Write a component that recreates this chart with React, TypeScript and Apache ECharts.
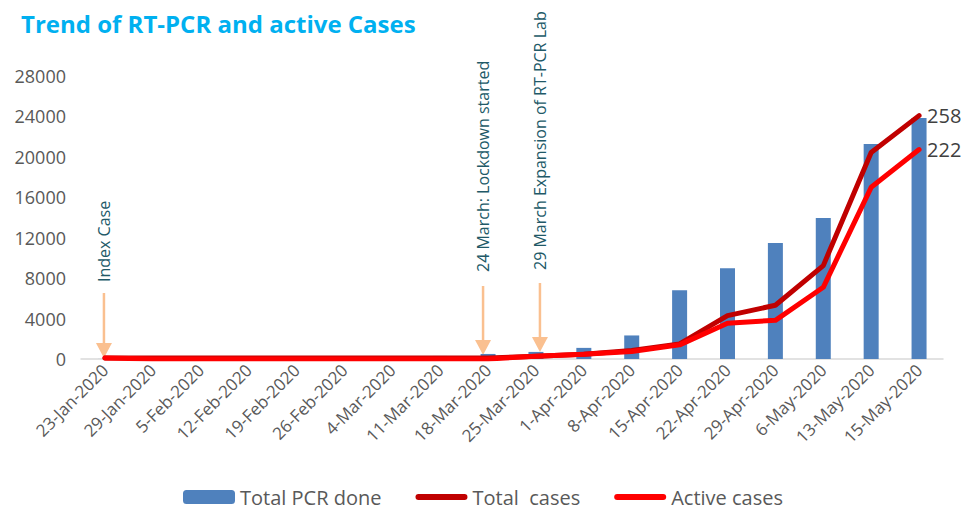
import React, { useEffect, useRef } from "react";
import * as echarts from "echarts";

const categories = [
  "23-Jan-2020", "29-Jan-2020", "5-Feb-2020", "12-Feb-2020", "19-Feb-2020",
  "26-Feb-2020", "4-Mar-2020", "11-Mar-2020", "18-Mar-2020", "25-Mar-2020",
  "1-Apr-2020", "8-Apr-2020", "15-Apr-2020", "22-Apr-2020", "29-Apr-2020",
  "6-May-2020", "13-May-2020", "15-May-2020",
];
const pcrDone = [5, 20, 40, 60, 80, 100, 200, 300, 500, 700, 1100, 2330, 6800, 8970, 11480, 13950, 21270, 23840];
const totalCases = [1, 1, 1, 1, 1, 1, 1, 1, 1, 3, 5, 9, 16, 46, 57, 99, 219, 258];
const activeCases = [1, 0, 0, 0, 0, 0, 0, 0, 0, 3, 5, 8, 15, 38, 41, 76, 182, 222];
const yTicks = { min: 0, max: 28000, interval: 4000 };
const annotations = [
  { cat: "23-Jan-2020", text: "Index Case", dx: -1, textBottom: 282, lineTop: 293, tipOffset: 1 },
  { cat: "18-Mar-2020", text: "24 March: Lockdown started", dx: -5, textBottom: 272, lineTop: 286, tipOffset: 4 },
  { cat: "25-Mar-2020", text: "29 March Expansion of RT-PCR Lab", dx: 4, textBottom: 270, lineTop: 283, tipOffset: 7 },
];

const lineIcon = "path://M3,0 L49,0 A3,3 0 0 1 49,6 L3,6 A3,3 0 0 1 3,0 Z";

export default function App() {
  const ref = useRef<HTMLDivElement>(null);
  useEffect(() => {
    document.body.style.margin = "0";
    if (!ref.current) return;
    const chart = echarts.init(ref.current, null, { renderer: "svg" });
    const font = "'Open Sans', sans-serif";
    chart.setOption({
      animation: false,
      textStyle: { fontFamily: font },
      title: {
        text: "Trend of RT-PCR and active Cases",
        left: 16,
        top: 6,
        textStyle: { color: "#00B0F0", fontSize: 24, fontWeight: "bold", fontFamily: font },
      },
      grid: { left: 81, right: 23, top: 76, bottom: 151 },
      legend: {
        bottom: -2,
        left: "center",
        itemWidth: 52,
        itemHeight: 14,
        itemGap: 34,
        textStyle: { color: "#595959", fontSize: 20, fontFamily: font },
        data: [
          { name: "Total PCR done" },
          { name: "Total  cases", icon: lineIcon },
          { name: "Active cases", icon: lineIcon },
        ],
      },
      xAxis: {
        type: "category",
        data: categories,
        axisTick: { show: false },
        axisLine: { lineStyle: { color: "#D9D9D9", width: 1.5 } },
        axisLabel: { rotate: 45, interval: 0, color: "#595959", fontSize: 17, margin: 8 },
      },
      yAxis: [
        {
          type: "value",
          min: yTicks.min,
          max: yTicks.max,
          interval: yTicks.interval,
          splitLine: { show: false },
          axisLine: { show: false },
          axisTick: { show: false },
          axisLabel: { color: "#595959", fontSize: 18, margin: 15, formatter: (v: number) => String(v) },
        },
        { type: "value", min: 0, max: 300, show: false, splitLine: { show: false } },
      ],
      series: [
        {
          name: "Total PCR done",
          type: "bar",
          data: pcrDone,
          barWidth: 15,
          itemStyle: { color: "#4F81BD" },
        },
        {
          name: "Total  cases",
          type: "line",
          yAxisIndex: 1,
          data: totalCases,
          symbol: "none",
          lineStyle: { color: "#C00000", width: 5, cap: "round", join: "round" },
          itemStyle: { color: "#C00000" },
          endLabel: { show: true, formatter: (p: any) => String(p.value), color: "#404040", fontSize: 20, distance: 8 },
        },
        {
          name: "Active cases",
          type: "line",
          yAxisIndex: 1,
          data: activeCases,
          symbol: "none",
          lineStyle: { color: "#FF0000", width: 5, cap: "round", join: "round" },
          itemStyle: { color: "#FF0000" },
          endLabel: { show: true, formatter: (p: any) => String(p.value), color: "#404040", fontSize: 20, distance: 8 },
        },
      ],
    });
    const y0 = chart.convertToPixel({ yAxisIndex: 0 }, 0) as number;
    const elements: any[] = [];
    annotations.forEach((a) => {
      const cx = (chart.convertToPixel({ xAxisIndex: 0 }, a.cat) as number) + a.dx;
      const tip = y0 - a.tipOffset;
      elements.push({
        type: "text",
        x: cx,
        y: a.textBottom,
        rotation: Math.PI / 2,
        style: { text: a.text, fill: "#215967", fontSize: 16, fontFamily: font, align: "left", verticalAlign: "middle" },
      });
      elements.push({
        type: "line",
        shape: { x1: cx, y1: a.lineTop, x2: cx, y2: tip - 14 },
        style: { stroke: "#FAC090", lineWidth: 2.5 },
      });
      elements.push({
        type: "polygon",
        shape: { points: [[cx - 8, tip - 15], [cx + 8, tip - 15], [cx, tip]] },
        style: { fill: "#FAC090" },
      });
    });
    chart.setOption({ graphic: elements });
    return () => chart.dispose();
  }, []);
  return <div ref={ref} style={{ width: 966, height: 510 }} />;
}
